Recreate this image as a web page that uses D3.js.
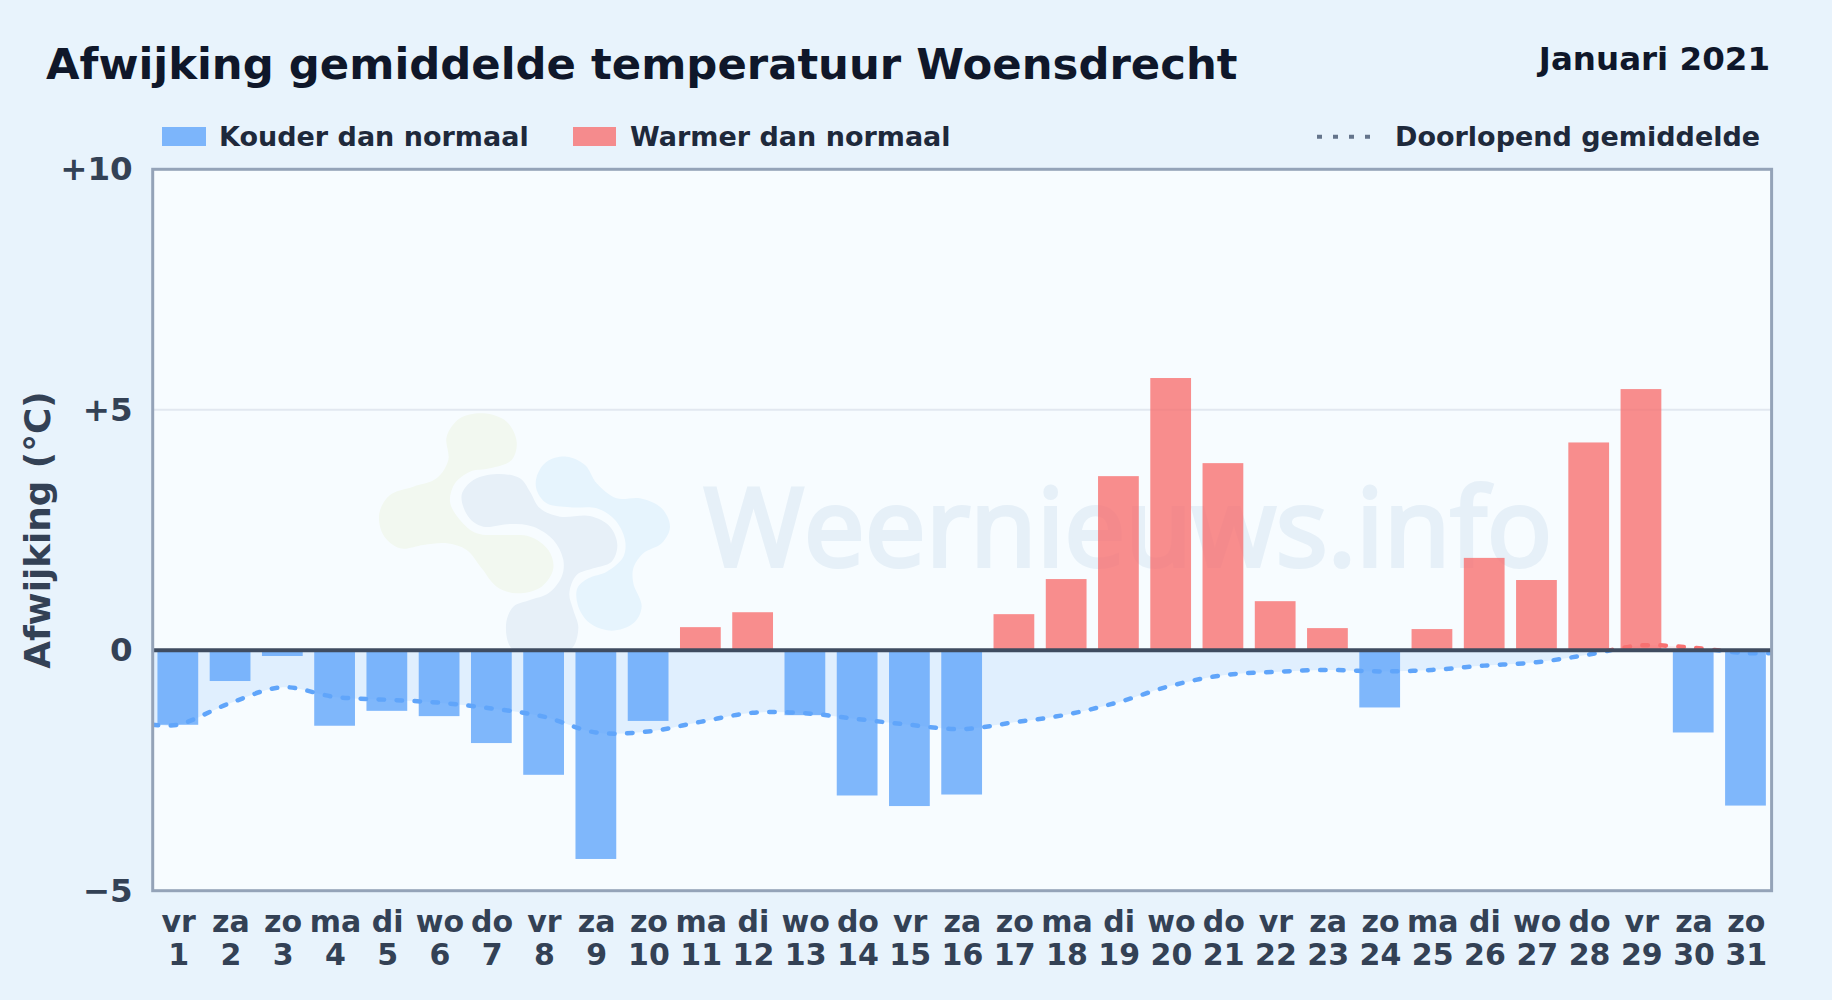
<!DOCTYPE html>
<html>
<head>
<meta charset="utf-8">
<title>Afwijking gemiddelde temperatuur Woensdrecht</title>
<script src="https://cdn.jsdelivr.net/npm/d3@7"></script>
<style>
    html, body { margin: 0; padding: 0; background: #e8f3fc; }
    svg { display: block; font-family: "DejaVu Sans", sans-serif; font-weight: bold; }
</style>
</head>
<body>
<div id="chart"></div>
<script>
const dayNames = ["vr","za","zo","ma","di","wo","do","vr","za","zo","ma","di","wo","do","vr","za","zo","ma","di","wo","do","vr","za","zo","ma","di","wo","do","vr","za","zo"];
const dayNumbers = [1,2,3,4,5,6,7,8,9,10,11,12,13,14,15,16,17,18,19,20,21,22,23,24,25,26,27,28,29,30,31];
const anomalies = [-1.55,-0.64,-0.12,-1.57,-1.26,-1.37,-1.93,-2.59,-4.34,-1.47,0.48,0.79,-1.35,-3.02,-3.24,-3.0,0.75,1.48,3.62,5.66,3.89,1.02,0.46,-1.19,0.44,1.92,1.46,4.32,5.43,-1.71,-3.23];
const runningMean = [-1.55,-1.10,-0.77,-0.97,-1.03,-1.09,-1.21,-1.38,-1.71,-1.69,-1.49,-1.30,-1.31,-1.43,-1.55,-1.64,-1.50,-1.34,-1.08,-0.74,-0.52,-0.45,-0.41,-0.44,-0.41,-0.32,-0.25,-0.09,0.10,0.05,-0.06];
const yTicks = [-5, 0, 5, 10];
const yTickLabels = ["\u22125", "0", "+5", "+10"];

const width = 1832;
const height = 1000;
const plot = { left: 152.7, right: 1771.6, top: 169.3, bottom: 890.7 };

const coldBar = "rgba(96, 165, 250, 0.8)";
const warmBar = "rgba(248, 113, 113, 0.8)";

const svg = d3.select("#chart").append("svg")
    .attr("width", width)
    .attr("height", height);

const x = d3.scaleBand()
    .domain(dayNumbers)
    .range([plot.left - 1, plot.right])
    .paddingInner(0.22)
    .paddingOuter(0.11);

const y = d3.scaleLinear()
    .domain([-5, 10])
    .range([plot.bottom, plot.top]);

const defs = svg.append("defs");
defs.append("clipPath").attr("id", "above-zero").append("rect")
    .attr("x", plot.left).attr("width", plot.right - plot.left)
    .attr("y", plot.top).attr("height", y(0) - plot.top);
defs.append("clipPath").attr("id", "below-zero").append("rect")
    .attr("x", plot.left).attr("width", plot.right - plot.left)
    .attr("y", y(0)).attr("height", plot.bottom - y(0));

// plot background
svg.append("rect")
    .attr("x", plot.left).attr("y", plot.top)
    .attr("width", plot.right - plot.left).attr("height", plot.bottom - plot.top)
    .attr("fill", "#f7fcff");

// grid line at +5
svg.append("line")
    .attr("x1", plot.left).attr("x2", plot.right)
    .attr("y1", y(5)).attr("y2", y(5))
    .attr("stroke", "#e2e8f0").attr("stroke-width", 2);

// watermark logo, traced outline on a 3x grid
const logoX = v => 340 + v / 3;
const logoY = v => 380 + v / 3;
const logoLine = d3.line().x(d => logoX(d[0])).y(d => logoY(d[1])).curve(d3.curveCatmullRomClosed);
const logoShapes = [
    { fill: "#f2f8f0", pts: [[320,170],[360,115],[430,100],[500,125],[530,185],[515,240],[450,265],[390,275],[345,310],[330,365],[360,420],[410,460],[490,465],[570,470],[625,510],[640,565],[605,620],[530,640],[470,620],[425,565],[380,510],[320,490],[250,495],[180,505],[130,465],[118,400],[150,345],[220,320],[290,295],[325,240]] },
    { fill: "#e7f0f8", pts: [[365,345],[400,300],[470,282],[540,295],[570,335],[600,385],[660,410],[750,408],[810,440],[832,495],[815,545],[760,565],[710,585],[688,640],[700,690],[715,745],[690,810],[520,810],[498,735],[520,680],[570,660],[625,640],[665,590],[670,540],[640,480],[580,440],[510,432],[430,440],[385,410]] },
    { fill: "#e6f4fd", pts: [[590,290],[620,245],[680,230],[735,255],[770,310],[830,355],[900,355],[965,385],[990,440],[965,490],[910,520],[880,565],[880,610],[905,680],[880,730],[815,752],[750,730],[715,680],[712,625],[745,595],[800,575],[850,530],[855,480],[825,420],[770,385],[690,382],[620,370],[590,330]] }
];
const logo = svg.append("g").attr("clip-path", "url(#above-zero)");
logoShapes.forEach(s => {
    logo.append("path").attr("d", logoLine(s.pts)).attr("fill", s.fill);
});

// watermark text
svg.append("text")
    .attr("x", 704).attr("y", 566)
    .attr("font-family", "'Open Sans', 'Noto Sans', sans-serif")
    .attr("font-weight", "normal")
    .attr("font-size", 108)
    .attr("letter-spacing", 0.3)
    .attr("fill", "#e6f0f8")
    .attr("stroke", "#e6f0f8")
    .attr("stroke-width", 4)
    .text("Weernieuws.info");

// running mean, held flat out to the frame edges
const meanPoints = runningMean.map((v, i) => [x(dayNumbers[i]) + x.bandwidth() / 2, v]);
const linePoints = [[plot.left, runningMean[0]], ...meanPoints, [plot.right, runningMean[runningMean.length - 1]]];

const meanArea = d3.area().x(d => d[0]).y0(y(0)).y1(d => y(d[1])).curve(d3.curveCatmullRom);
const meanLine = d3.line().x(d => d[0]).y(d => y(d[1])).curve(d3.curveCatmullRom);

svg.append("path").attr("d", meanArea(linePoints))
    .attr("fill", "rgba(96, 165, 250, 0.15)").attr("clip-path", "url(#below-zero)");
svg.append("path").attr("d", meanArea(linePoints))
    .attr("fill", "rgba(248, 113, 113, 0.15)").attr("clip-path", "url(#above-zero)");

// bars
svg.append("g").selectAll("rect")
    .data(anomalies)
    .join("rect")
    .attr("x", (d, i) => x(dayNumbers[i]))
    .attr("width", x.bandwidth())
    .attr("y", d => y(Math.max(d, 0)))
    .attr("height", d => Math.abs(y(d) - y(0)))
    .attr("fill", d => d < 0 ? coldBar : warmBar);

// dashed mean line, blue under zero and red over it
[["#60a5fa", "below-zero"], ["#f87171", "above-zero"]].forEach(([colour, clip]) => {
    svg.append("g").attr("clip-path", `url(#${clip})`)
        .append("path")
        .attr("d", meanLine(linePoints))
        .attr("fill", "none")
        .attr("stroke", colour)
        .attr("stroke-width", 4.5)
        .attr("stroke-linecap", "round")
        .attr("stroke-dasharray", "5.5 12.5");
});

// zero line and frame
svg.append("line")
    .attr("x1", plot.left).attr("x2", plot.right)
    .attr("y1", y(0)).attr("y2", y(0))
    .attr("stroke", "#3f4c60").attr("stroke-width", 4);
svg.append("rect")
    .attr("x", plot.left).attr("y", plot.top)
    .attr("width", plot.right - plot.left).attr("height", plot.bottom - plot.top)
    .attr("fill", "none").attr("stroke", "#94a3b8").attr("stroke-width", 3);

// axes
const yAxis = svg.append("g")
    .attr("transform", `translate(${plot.left},0)`)
    .call(d3.axisLeft(y).tickValues(yTicks).tickSize(0).tickPadding(20)
        .tickFormat((d, i) => yTickLabels[i]));
yAxis.select(".domain").remove();
yAxis.selectAll("text")
    .attr("font-family", "'DejaVu Sans', sans-serif")
    .attr("font-size", 32.5)
    .attr("fill", "#334155");

const xAxis = svg.append("g")
    .attr("transform", `translate(0.8,${plot.bottom})`)
    .call(d3.axisBottom(x).tickSize(0).tickFormat(""));
xAxis.select(".domain").remove();
xAxis.selectAll("text").each(function(d, i) {
    const t = d3.select(this)
        .attr("y", 0).attr("dy", null)
        .attr("font-family", "'DejaVu Sans', sans-serif")
        .attr("font-size", 30)
        .attr("fill", "#334155");
    t.append("tspan").attr("x", 0).attr("y", 41).text(dayNames[i]);
    t.append("tspan").attr("x", 0).attr("y", 74.5).text(dayNumbers[i]);
});

svg.append("text")
    .attr("transform", "translate(50,530) rotate(-90)")
    .attr("text-anchor", "middle")
    .attr("font-size", 35.8)
    .attr("fill", "#334155")
    .text("Afwijking (\u00b0C)");

// title and date
svg.append("text")
    .attr("x", 46).attr("y", 78.7)
    .attr("font-size", 43.35)
    .attr("fill", "#0f172a")
    .text("Afwijking gemiddelde temperatuur Woensdrecht");
svg.append("text")
    .attr("x", 1770).attr("y", 70)
    .attr("text-anchor", "end")
    .attr("font-size", 32.5)
    .attr("fill", "#0f172a")
    .text("Januari 2021");

// legend
const legend = svg.append("g").attr("font-size", 27).attr("fill", "#1e293b");
legend.append("rect").attr("x", 162).attr("y", 127).attr("width", 44).attr("height", 19).attr("fill", coldBar);
legend.append("text").attr("x", 219).attr("y", 145.7).text("Kouder dan normaal");
legend.append("rect").attr("x", 573).attr("y", 127).attr("width", 43).attr("height", 19).attr("fill", warmBar);
legend.append("text").attr("x", 630).attr("y", 145.7).text("Warmer dan normaal");
legend.append("line")
    .attr("x1", 1317).attr("x2", 1375).attr("y1", 136.7).attr("y2", 136.7)
    .attr("stroke", "#64748b").attr("stroke-width", 4).attr("stroke-dasharray", "5 11");
legend.append("text").attr("x", 1395).attr("y", 145.7).text("Doorlopend gemiddelde");
</script>
</body>
</html>
